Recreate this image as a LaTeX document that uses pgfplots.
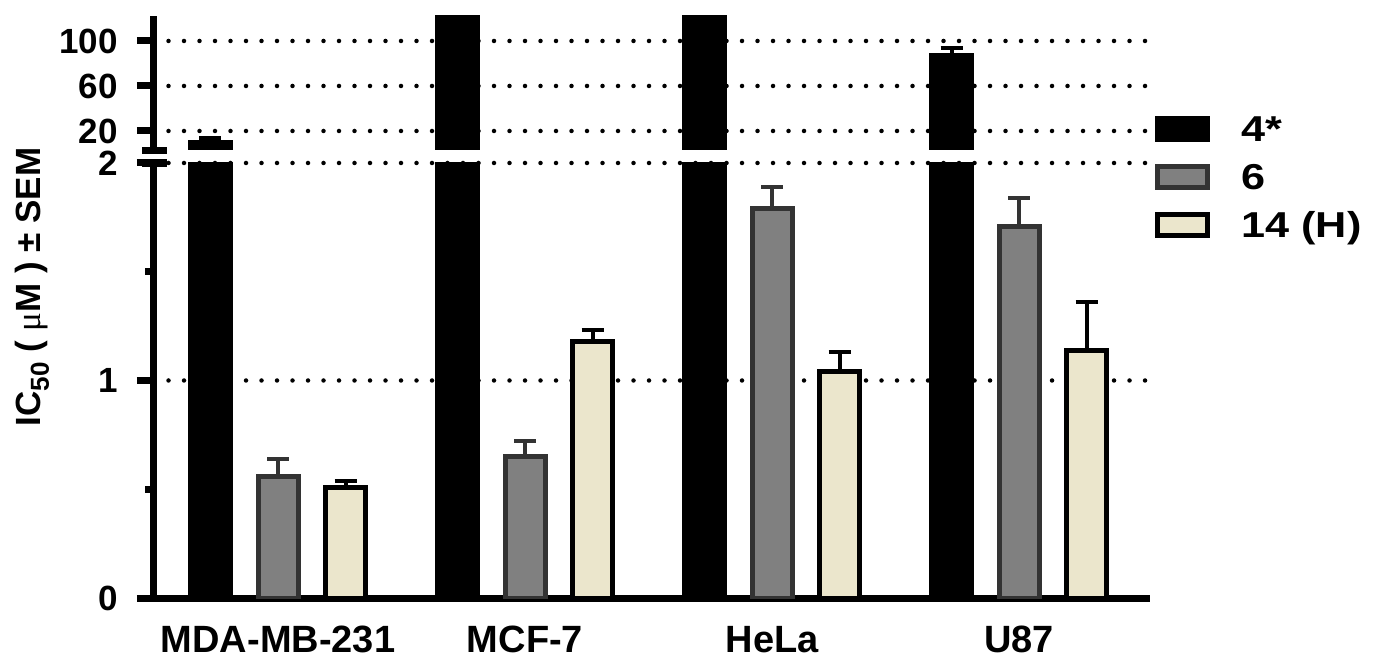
\documentclass[border=0pt]{standalone}
\usepackage{pgfplots}
\pgfplotsset{compat=1.18}
\usepackage{fontspec}
\setmainfont{Liberation Sans}
\newfontfamily\serifmu{Liberation Serif}
\newfontfamily\legfont[FakeStretch=1.2]{Liberation Sans}
\definecolor{barGray}{RGB}{128,128,128}
\definecolor{edgeGray}{RGB}{51,51,51}
\definecolor{beige}{RGB}{235,230,204}

\pgfplotsset{
  common/.style={
    scale only axis, width=498.5pt, xmin=-0.506, xmax=3.530,
    enlargelimits=false,
    anchor=south west,
    axis line style={-, line width=3.5pt, black},
    x axis line style={-}, y axis line style={-},
    tick align=outside, major tick length=8pt, minor tick length=4pt,
    tick style={line width=3.5pt, black},
    major x tick style={draw=none},
    ymajorgrids,
    major grid style={line width=2.25pt, dash pattern=on 0pt off 7.75pt, line cap=round, black},
    yticklabel style={font=\fontsize{17.5}{20}\selectfont\bfseries, anchor=east, inner sep=0pt, xshift=-9.5pt},
  },
  mybar/.style={ybar, bar width=20pt, line width=2.5pt,
    legend image code/.code={\draw[##1, line width=2.5pt] (1.25pt,-5.25pt) rectangle (26.25pt,5.25pt);}},
  errs/.style 2 args={error bars/.cd, y dir=plus, y explicit,
    error bar style={line width=2pt, #1, xshift=#2},
    error mark options={rotate=90, mark size=5.5pt, line width=2pt, #1}},
}

\begin{document}
\begin{tikzpicture}
\path (0,0) rectangle (689.5pt,329pt);

% lower segment 0--2
\begin{axis}[axis x line=bottom, axis y line=left, common,
  at={(76.5pt,30pt)}, height=217.5pt,
  ymin=0, ymax=2,
  ytick={0,1,2}, yticklabels={0,1,2}, minor ytick={0.5,1.5},
  xtick={0,1,2,3}, xticklabels={MDA-MB-231,MCF-7,HeLa,U87},
  xticklabel style={font=\fontsize{19}{20}\selectfont\bfseries, anchor=base, inner sep=0pt, yshift=-19pt},
  legend cell align=left,
  legend style={at={(1.0045,1.10805)}, anchor=north west, draw=none, fill=none,
    inner sep=0pt, outer sep=0pt, row sep=11pt,
    font=\fontsize{18}{20}\selectfont\legfont\bfseries,
    nodes={inner sep=0pt, text height=13pt, text depth=0pt},
    /tikz/every odd column/.append style={column sep=16pt}},
]
\addplot[mybar, bar shift=-33.75pt, fill=black, draw=black, restrict y to domain*=0:3]
  coordinates {(0,10) (1,130) (2,130) (3,87.4)};
\addlegendentry{4*}
\addplot[mybar, bar shift=0pt, fill=barGray, draw=edgeGray, errs={edgeGray}{0pt}]
  coordinates {(0,0.56) +- (0,0.08) (1,0.65) +- (0,0.07) (2,1.79) +- (0,0.10) (3,1.71) +- (0,0.13)};
\addlegendentry{6}
\addplot[mybar, bar shift=33.75pt, fill=beige, draw=black, errs={black}{33.75pt}]
  coordinates {(0,0.51) +- (0,0.03) (1,1.18) +- (0,0.05) (2,1.04) +- (0,0.09) (3,1.14) +- (0,0.22)};
\addlegendentry{14 (H)}
\end{axis}

% upper segment
\begin{axis}[axis x line=none, axis y line=left, common,
  at={(76.5pt,254pt)}, height=67pt,
  ymin=3.11, ymax=122.2,
  ytick={20,60,100}, yticklabels={20,60,100},
  xtick=\empty,
]
\addplot[mybar, bar shift=-33.75pt, fill=black, draw=black, errs={black}{-33.75pt}]
  coordinates {(0,10) +- (0,4) (3,87.4) +- (0,6.6)};
\addplot[mybar, bar shift=-33.75pt, fill=black, draw=black, restrict y to domain*=0:200]
  coordinates {(1,130) (2,130)};
\end{axis}

% axis break marks
\draw[line width=3.5pt] (71pt,253.75pt) -- (83.5pt,253.75pt);
\draw[line width=4pt] (71pt,247.5pt) -- (83.5pt,247.5pt);

\node[rotate=90, font=\fontsize{17.5}{20}\selectfont\bfseries, inner sep=0pt] at (16pt,185.5pt)
  {IC\raisebox{-0.25em}{\fontsize{13}{14}\selectfont 50} ( {\serifmu\mdseries μ}M ) ± SEM};
\end{tikzpicture}
\end{document}
